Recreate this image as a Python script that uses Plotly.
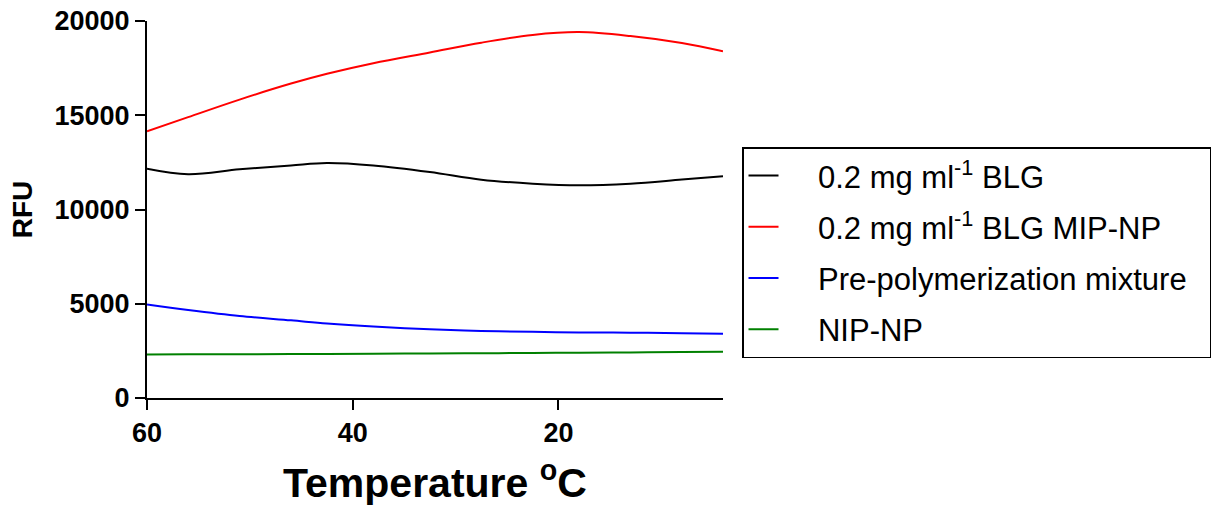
import plotly.graph_objects as go

temperature = [60, 56, 51, 46, 42.5, 38, 32.5, 27.5, 22.5, 18, 13, 8, 4]
blg = [12166, 11870, 12130, 12340, 12470, 12340, 11990, 11580, 11370, 11280, 11370, 11590, 11770]
blg_mip_np = [14146, 14900, 15830, 16680, 17200, 17760, 18330, 18850, 19260, 19410, 19200, 18830, 18390]
pre_poly = [4963, 4670, 4350, 4120, 3950, 3790, 3650, 3560, 3510, 3480, 3465, 3440, 3410]
nip_np = [2310, 2315, 2320, 2330, 2340, 2350, 2360, 2375, 2390, 2405, 2420, 2440, 2452]

series_names = ["0.2 mg ml<sup>-1</sup> BLG", "0.2 mg ml<sup>-1</sup> BLG MIP-NP",
                "Pre-polymerization mixture", "NIP-NP"]
series_values = [blg, blg_mip_np, pre_poly, nip_np]
series_colors = ["#000000", "#ff0000", "#0000ff", "#008000"]

x_ticks = [60, 40, 20]
y_ticks = [0, 5000, 10000, 15000, 20000]

FONT = "Liberation Sans, Arial, sans-serif"
PAD_L = "\u00a0" * 4
PAD_R = "\u00a0" * 2

fig = go.Figure()
for i, (name, vals, col) in enumerate(zip(series_names, series_values, series_colors)):
    fig.add_trace(go.Scatter(
        x=temperature, y=vals, name=PAD_L + name + PAD_R, mode="lines",
        line=dict(color=col, width=2, shape="spline", smoothing=1.0),
        legendgroup=f"g{i}",
    ))

fig.update_layout(
    width=1217, height=508,
    margin=dict(l=147, r=494, t=21, b=110, autoexpand=False),
    plot_bgcolor="white", paper_bgcolor="white",
    font=dict(family=FONT, color="black"),
    showlegend=True,
    legend=dict(
        x=1.033, y=0.665, xanchor="left", yanchor="top",
        bordercolor="black", borderwidth=1.5,
        font=dict(size=31, family=FONT, color="black"),
        tracegroupgap=8,
        bgcolor="white",
    ),
    xaxis=dict(
        range=[60, 4], autorange=False,
        tickvals=x_ticks, ticktext=[str(v) for v in x_ticks],
        ticks="outside", ticklen=10, tickwidth=2, tickcolor="black",
        showline=True, linewidth=2, linecolor="black",
        showgrid=False, zeroline=False,
        tickfont=dict(size=27, family=FONT, weight="bold"),
        title=dict(text="Temperature <sup>o</sup>C",
                   font=dict(size=41, family=FONT, weight="bold"), standoff=21),
    ),
    yaxis=dict(
        range=[0, 20000], autorange=False,
        tickvals=y_ticks, ticktext=[str(v) for v in y_ticks],
        ticks="outside", ticklen=10, tickwidth=2, tickcolor="black",
        showline=True, linewidth=2, linecolor="black",
        showgrid=False, zeroline=False,
        tickfont=dict(size=27, family=FONT, weight="bold"),
        title=dict(text="RFU", font=dict(size=28, family=FONT, weight="bold"), standoff=14),
    ),
)

fig.write_html("out.html", config={"displayModeBar": False},
               post_script="document.body.style.margin='0';document.body.style.padding='0';")
